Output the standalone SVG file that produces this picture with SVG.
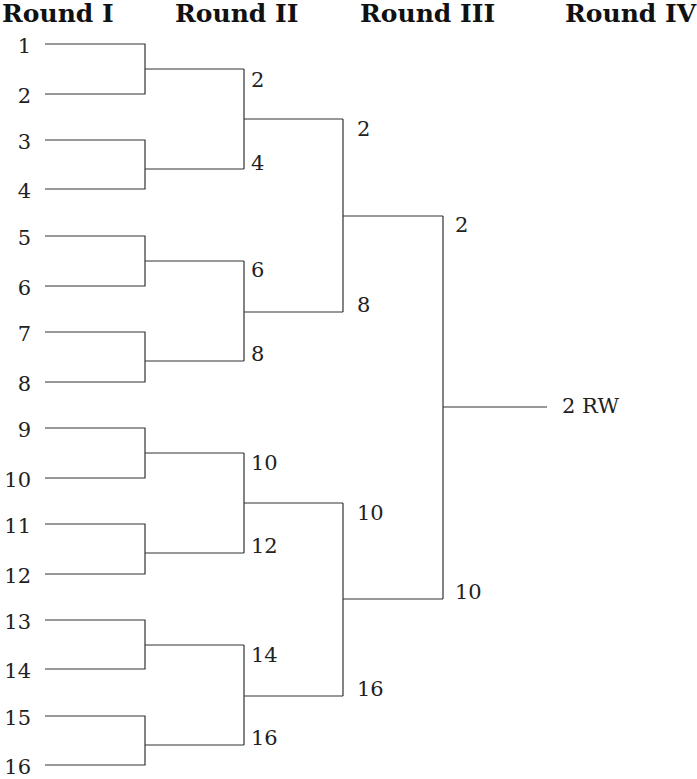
<svg xmlns="http://www.w3.org/2000/svg" width="697" height="779" viewBox="0 0 697 779">
<style>
.hd{font-family:"DejaVu Serif","Liberation Serif",serif;font-weight:bold;font-size:25px;fill:#111}
.lb{font-family:"DejaVu Serif","Liberation Serif",serif;font-size:21px;fill:#222}
.r1{text-anchor:end}
.ln{fill:none;stroke:#333;stroke-width:1.2}
</style>
<rect width="697" height="779" fill="#fff"/>
<g id="headers">
<text class="hd" x="2" y="22">Round I</text>
<text class="hd" x="175" y="22">Round II</text>
<text class="hd" x="360" y="22">Round III</text>
<text class="hd" x="565" y="22">Round IV</text>
</g>
<g id="connectors" class="ln">
<path d="M45,44H145V94H45M145,69H244"/>
<path d="M45,140H145V189H45M145,169H244"/>
<path d="M45,236H145V286H45M145,261H244"/>
<path d="M45,332H145V382H45M145,361H244"/>
<path d="M45,428H145V478H45M145,453H244"/>
<path d="M45,524H145V574H45M145,553H244"/>
<path d="M45,620H145V669H45M145,645H244"/>
<path d="M45,716H145V765H45M145,745H244"/>
<path d="M244,69V169M244,119H343"/>
<path d="M244,261V361M244,312H343"/>
<path d="M244,453V553M244,503H343"/>
<path d="M244,645V745M244,696H343"/>
<path d="M343,119V312M343,216H443"/>
<path d="M343,503V696M343,599H443"/>
<path d="M443,216V599M443,407H547"/>
</g>
<g id="round1">
<g id="t1"><text class="lb r1" x="31" y="53">1</text></g>
<g id="t2"><text class="lb r1" x="31" y="103">2</text></g>
<g id="t3"><text class="lb r1" x="31" y="149">3</text></g>
<g id="t4"><text class="lb r1" x="31" y="198">4</text></g>
<g id="t5"><text class="lb r1" x="31" y="245">5</text></g>
<g id="t6"><text class="lb r1" x="31" y="295">6</text></g>
<g id="t7"><text class="lb r1" x="31" y="341">7</text></g>
<g id="t8"><text class="lb r1" x="31" y="391">8</text></g>
<g id="t9"><text class="lb r1" x="31" y="437">9</text></g>
<g id="t10"><text class="lb r1" x="31" y="487">10</text></g>
<g id="t11"><text class="lb r1" x="31" y="533">11</text></g>
<g id="t12"><text class="lb r1" x="31" y="583">12</text></g>
<g id="t13"><text class="lb r1" x="31" y="629">13</text></g>
<g id="t14"><text class="lb r1" x="31" y="678">14</text></g>
<g id="t15"><text class="lb r1" x="31" y="725">15</text></g>
<g id="t16"><text class="lb r1" x="31" y="774">16</text></g>
</g>
<g id="round2">
<g id="r2a"><text class="lb" x="251" y="87">2</text></g>
<g id="r2b"><text class="lb" x="251" y="170">4</text></g>
<g id="r2c"><text class="lb" x="251" y="277">6</text></g>
<g id="r2d"><text class="lb" x="251" y="361">8</text></g>
<g id="r2e"><text class="lb" x="251" y="470">10</text></g>
<g id="r2f"><text class="lb" x="251" y="553">12</text></g>
<g id="r2g"><text class="lb" x="251" y="662">14</text></g>
<g id="r2h"><text class="lb" x="251" y="745">16</text></g>
</g>
<g id="round3">
<g id="r3a"><text class="lb" x="357" y="136">2</text></g>
<g id="r3b"><text class="lb" x="357" y="312">8</text></g>
<g id="r3c"><text class="lb" x="357" y="520">10</text></g>
<g id="r3d"><text class="lb" x="357" y="696">16</text></g>
</g>
<g id="round4">
<g id="r4a"><text class="lb" x="455" y="232">2</text></g>
<g id="r4b"><text class="lb" x="455" y="599">10</text></g>
</g>
<g id="winner"><text class="lb" x="562" y="413">2 RW</text></g>
</svg>
